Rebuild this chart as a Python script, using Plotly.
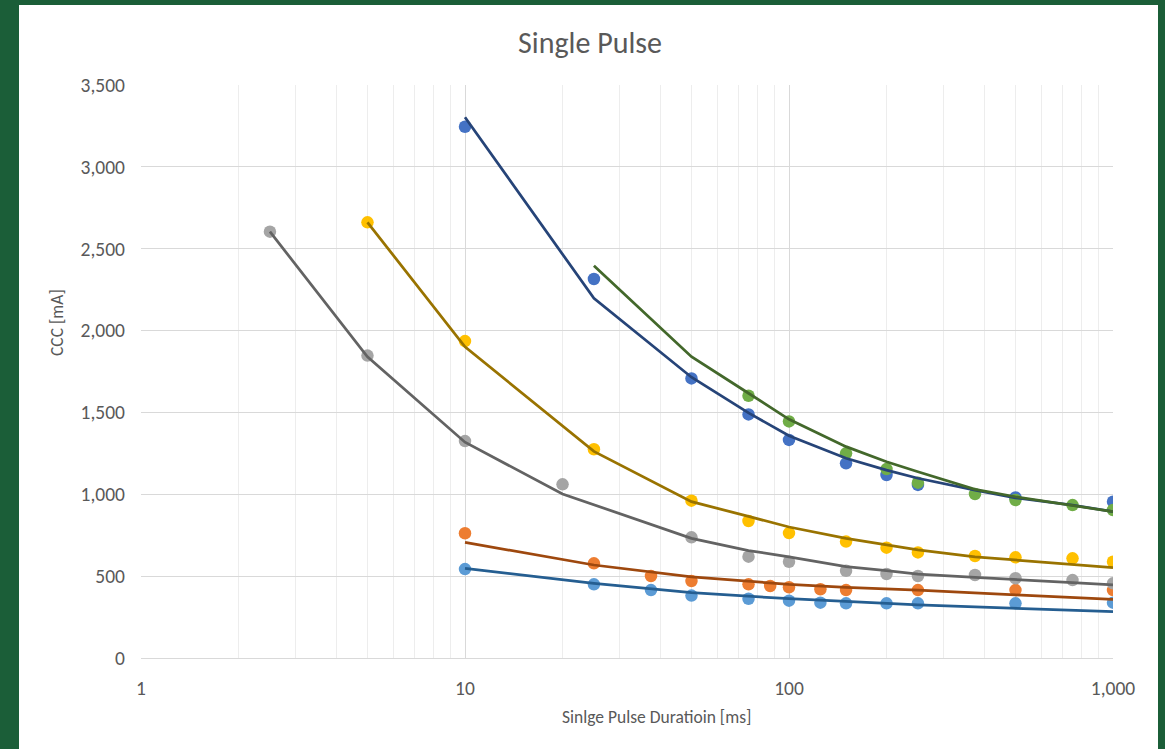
import plotly.graph_objects as go

# ---- measured points (series 1-6) ----
x_blue = [10, 25, 50, 75, 100, 150, 200, 250, 500, 1000]
y_blue = [3245, 2315, 1708, 1488, 1332, 1189, 1118, 1057, 981, 955]

x_orange = [10, 25, 37.5, 50, 75, 87.5, 100, 125, 150, 250, 500, 1000]
y_orange = [762, 578, 501, 470, 450, 440, 432, 420, 415, 415, 415, 415]

x_gray = [2.5, 5, 10, 20, 50, 75, 100, 150, 200, 250, 375, 500, 750, 1000]
y_gray = [2604, 1847, 1325, 1061, 737, 619, 588, 533, 513, 501, 507, 487, 476, 456]

x_gold = [5, 10, 25, 50, 75, 100, 150, 200, 250, 375, 500, 750, 1000]
y_gold = [2661, 1936, 1275, 961, 837, 763, 711, 674, 645, 623, 615, 609, 588]

x_lblue = [10, 25, 37.5, 50, 75, 100, 125, 150, 200, 250, 500, 1000]
y_lblue = [543, 450, 415, 381, 362, 350, 338, 334, 334, 334, 334, 338]

x_green = [75, 100, 150, 200, 250, 375, 500, 750, 1000]
y_green = [1602, 1445, 1250, 1154, 1071, 1002, 965, 934, 904]

# ---- calculated curves (series 7-12) ----
xl_blue = [10, 25, 50, 75, 100, 150, 200, 250, 375, 500, 750, 1000]
yl_blue = [3303, 2197, 1715, 1497, 1358, 1220, 1148, 1098, 1026, 978, 934, 894]

xl_orange = [10, 25, 50, 100, 150, 250, 500, 1000]
yl_orange = [706, 568, 495, 450, 432, 415, 385, 358]

xl_gray = [2.5, 5, 10, 20, 50, 75, 100, 150, 200, 250, 375, 500, 750, 1000]
yl_gray = [2604, 1840, 1318, 1002, 731, 656, 618, 558, 533, 513, 493, 481, 460, 446]

xl_gold = [5, 10, 25, 50, 75, 100, 150, 200, 250, 375, 500, 750, 1000]
yl_gold = [2661, 1901, 1262, 955, 865, 800, 731, 690, 660, 618, 599, 572, 552]

xl_lblue = [10, 25, 50, 75, 100, 250, 500, 1000]
yl_lblue = [548, 456, 399, 377, 362, 324, 305, 283]

xl_green = [25, 50, 75, 100, 150, 200, 250, 375, 500, 750, 1000]
yl_green = [2396, 1840, 1617, 1458, 1291, 1199, 1138, 1030, 985, 934, 894]

x_ticks = [1, 10, 100, 1000]
x_ticktext = ["1", "10", "100", "1,000"]

point_series = [
    (x_blue, y_blue, "#4472C4"),
    (x_orange, y_orange, "#ED7D31"),
    (x_gray, y_gray, "#A5A5A5"),
    (x_gold, y_gold, "#FFC000"),
    (x_lblue, y_lblue, "#5B9BD5"),
    (x_green, y_green, "#70AD47"),
]
line_series = [
    (xl_blue, yl_blue, "#264478"),
    (xl_orange, yl_orange, "#9E480E"),
    (xl_gray, yl_gray, "#636363"),
    (xl_gold, yl_gold, "#997300"),
    (xl_lblue, yl_lblue, "#255E91"),
    (xl_green, yl_green, "#43682B"),
]

FONT = "Calibri, Carlito, Lato, sans-serif"
TXT = "#595959"

fig = go.Figure()
for xs, ys, c in point_series:
    fig.add_trace(go.Scatter(x=xs, y=ys, mode="markers",
                             marker=dict(size=12.5, color=c, line=dict(width=0)),
                             showlegend=False, hoverinfo="x+y"))
for xs, ys, c in line_series:
    fig.add_trace(go.Scatter(x=xs, y=ys, mode="lines",
                             line=dict(width=2.75, color=c),
                             showlegend=False, hoverinfo="x+y"))

minor_vals = [m * d for d in (1, 10, 100) for m in range(2, 10)]

L, R, T, B = 141, 52, 85, 91
W, H = 1165, 749
pw, ph = W - L - R, H - T - B

def px_x(p):
    return (p - L) / pw

def px_y(p):
    return (H - B - p) / ph

fig.add_shape(type="rect", xref="paper", yref="paper", layer="below",
              x0=px_x(19), x1=px_x(1158), y0=px_y(760), y1=px_y(5),
              fillcolor="white", line=dict(width=0))

fig.update_layout(
    width=W, height=H,
    margin=dict(l=L, r=R, t=T, b=B),
    paper_bgcolor="#1b5e38",
    plot_bgcolor="rgba(0,0,0,0)",
    font=dict(family=FONT, color=TXT),
    title=dict(text="Single Pulse", x=590 / W, xref="container", xanchor="center",
               y=1 - 42 / H, yref="container", yanchor="middle",
               font=dict(size=30, color=TXT, family=FONT)),
    xaxis=dict(type="log", range=[0, 3], tickvals=x_ticks, ticktext=x_ticktext,
               showgrid=True, gridcolor="#D9D9D9", gridwidth=1,
               minor=dict(tickvals=minor_vals, showgrid=True, gridcolor="#EDEDED", gridwidth=1),
               showline=True, linecolor="#D9D9D9", linewidth=1,
               ticks="", ticklabelstandoff=13,
               tickfont=dict(size=19.5, color=TXT, family=FONT), zeroline=False),
    yaxis=dict(range=[0, 3500], dtick=500, tickformat=",d",
               showgrid=True, gridcolor="#D9D9D9", gridwidth=1,
               showline=False, zeroline=False, ticks="", ticklabelstandoff=15,
               tickfont=dict(size=19.5, color=TXT, family=FONT)),
    annotations=[
        dict(text="Sinlge Pulse Duratioin [ms]", xref="paper", yref="paper",
             x=px_x(656), y=px_y(717), xanchor="center", yanchor="middle",
             showarrow=False, font=dict(size=17.5, color=TXT, family=FONT)),
        dict(text="CCC [mA]", xref="paper", yref="paper",
             x=px_x(57), y=px_y(323), xanchor="center", yanchor="middle",
             textangle=-90, showarrow=False, font=dict(size=17.5, color=TXT, family=FONT)),
    ],
)

fig.write_html("out.html", config={"displayModeBar": False},
               post_script="document.body.style.margin='0px';document.body.style.background='#1b5e38';")
